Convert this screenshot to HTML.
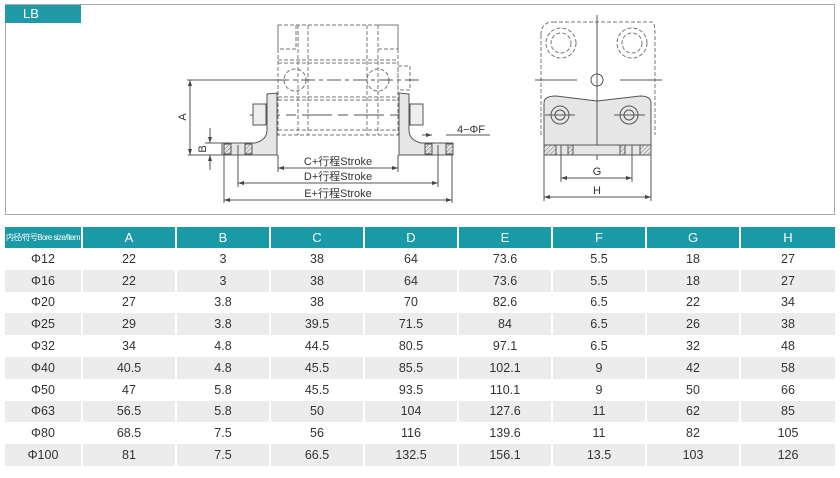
<!DOCTYPE html>
<html><head><meta charset="utf-8"><style>
body{margin:0;width:840px;height:478px;background:#fff;font-family:"Liberation Sans","Noto Sans CJK SC",sans-serif;position:relative;overflow:hidden}
.frame{position:absolute;left:5px;top:4px;width:828px;height:209px;border:1px solid #aaa}
.tab{position:absolute;left:5px;top:5px;width:76px;height:18px;background:#1f9aa6;color:#fff;font-size:13px;line-height:18px;padding-left:18px;box-sizing:border-box}
table{position:absolute;left:5px;top:227px;border-collapse:collapse;width:830px;table-layout:fixed;font-size:12.5px;color:#333}
th{background:#1a9aa6;color:#fff;font-weight:normal;height:21px;border-left:2px solid #fff;font-size:13px;padding:0}
th:first-child{border-left:none;font-size:8px;letter-spacing:-0.6px;white-space:nowrap;overflow:hidden}
td{text-align:center;height:21.8px;padding:0;border-left:2px solid #fff}
tr.g td{background:#ececec}
</style></head><body>
<div class="frame"></div>
<div class="tab">LB</div>
<svg width="840" height="215" style="position:absolute;left:0;top:0" font-family="Liberation Sans, Noto Sans CJK SC, sans-serif">
<defs><pattern id="h" width="3" height="3" patternUnits="userSpaceOnUse" patternTransform="rotate(45)"><line x1="0" y1="0" x2="0" y2="3" stroke="#555" stroke-width="0.8"/></pattern>
<marker id="a" markerWidth="6" markerHeight="4" refX="6" refY="2" orient="auto-start-reverse"><path d="M0,0L6,2L0,4z" fill="#444"/></marker></defs>
<g stroke="#777" stroke-width="1" fill="none" stroke-dasharray="4,2">
<rect x="278" y="25" width="120" height="110"/>
<line x1="298" y1="25" x2="298" y2="135"/><line x1="308" y1="25" x2="308" y2="135"/>
<line x1="367" y1="25" x2="367" y2="135"/><line x1="378" y1="25" x2="378" y2="135"/>
<line x1="278" y1="60" x2="398" y2="60"/><line x1="278" y1="63" x2="398" y2="63"/>
<line x1="278" y1="97" x2="398" y2="97"/><line x1="278" y1="100" x2="398" y2="100"/>
<line x1="278" y1="130" x2="398" y2="130"/>
<rect x="278" y="25" width="18" height="24"/><rect x="378" y="25" width="20" height="24"/>
<circle cx="295" cy="80" r="11"/><circle cx="378" cy="80" r="11"/>
<rect x="398" y="66" width="12" height="24"/>
</g>
<g stroke="#555" stroke-width="1" fill="none">
<line x1="187" y1="80" x2="275" y2="80"/><line x1="275" y1="80" x2="420" y2="80" stroke-dasharray="14,4,4,4"/>
<line x1="250" y1="115" x2="420" y2="115" stroke-dasharray="30,6,10,6"/>
<path d="M267,94 L277,93 L277,155 L240,155 L222,155 L222,143 L255,143 Q267,140 267,130 Z" fill="#e6e6e6"/>
<path d="M409,94 L399,93 L399,155 L453,155 L453,143 L421,143 Q409,140 409,130 Z" fill="#e6e6e6"/>
<rect x="253" y="104" width="13" height="21" fill="#eee"/><rect x="410" y="104" width="13" height="21" fill="#eee"/>
<rect x="224" y="144" width="7" height="10" fill="url(#h)"/><rect x="245" y="144" width="7" height="10" fill="url(#h)"/>
<rect x="425" y="144" width="7" height="10" fill="url(#h)"/><rect x="446" y="144" width="7" height="10" fill="url(#h)"/>
<line x1="188" y1="155" x2="222" y2="155"/><line x1="205" y1="143" x2="222" y2="143"/>
<line x1="190" y1="80" x2="190" y2="155" marker-start="url(#a)" marker-end="url(#a)"/>
<line x1="210" y1="128" x2="210" y2="143" marker-end="url(#a)"/><line x1="210" y1="170" x2="210" y2="155" marker-end="url(#a)"/>
<line x1="278" y1="155" x2="278" y2="172"/><line x1="398" y1="155" x2="398" y2="172"/>
<line x1="238" y1="145" x2="238" y2="187"/><line x1="438" y1="145" x2="438" y2="187"/>
<line x1="224" y1="155" x2="224" y2="203"/><line x1="452" y1="155" x2="452" y2="203"/>
<line x1="278" y1="168" x2="398" y2="168" marker-start="url(#a)" marker-end="url(#a)"/>
<line x1="238" y1="183" x2="438" y2="183" marker-start="url(#a)" marker-end="url(#a)"/>
<line x1="224" y1="200" x2="452" y2="200" marker-start="url(#a)" marker-end="url(#a)"/>
<line x1="422" y1="135" x2="432" y2="135" marker-end="url(#a)"/><line x1="446" y1="135" x2="490" y2="135"/>
</g>
<g font-size="11" fill="#333" text-anchor="middle">
<text x="338" y="165">C+行程Stroke</text><text x="338" y="180">D+行程Stroke</text><text x="338" y="197">E+行程Stroke</text>
<text x="471" y="133">4−ΦF</text>
<text transform="translate(186,117) rotate(-90)">A</text><text transform="translate(206,149) rotate(-90)">B</text>
<text x="597" y="175">G</text><text x="597" y="194">H</text>
</g>
<g stroke="#777" stroke-width="1" fill="none" stroke-dasharray="4,2">
<path d="M553,22 L652,22 Q655,22 655,35 L655,135 M541,35 Q541,22 553,22 M541,35 L541,135"/>
<circle cx="561" cy="43" r="15"/><circle cx="561" cy="43" r="10"/>
<circle cx="632" cy="43" r="15"/><circle cx="632" cy="43" r="10"/>
</g>
<g stroke="#555" stroke-width="1" fill="none">
<path d="M544,103 Q544,96 556,96 L597,101 L640,96 Q651,96 651,103 L651,145 L544,145 Z" fill="#e6e6e6"/>
<line x1="597" y1="15" x2="597" y2="160"/>
<line x1="535" y1="80" x2="577" y2="80"/><line x1="620" y1="80" x2="662" y2="80"/>
<circle cx="597" cy="80" r="6"/>
<circle cx="560" cy="115" r="9"/><circle cx="560" cy="115" r="5"/>
<circle cx="629" cy="115" r="9"/><circle cx="629" cy="115" r="5"/>
<line x1="545" y1="115" x2="575" y2="115"/><line x1="614" y1="115" x2="645" y2="115"/>
<rect x="544" y="145" width="107" height="10" fill="#e6e6e6"/>
<rect x="544" y="145" width="12" height="10" fill="url(#h)"/><rect x="568" y="145" width="5" height="10" fill="url(#h)"/>
<rect x="620" y="145" width="5" height="10" fill="url(#h)"/><rect x="640" y="145" width="11" height="10" fill="url(#h)"/>
<line x1="561" y1="145" x2="561" y2="182"/><line x1="632" y1="145" x2="632" y2="182"/>
<line x1="544" y1="155" x2="544" y2="201"/><line x1="651" y1="155" x2="651" y2="201"/>
<line x1="561" y1="178" x2="632" y2="178" marker-start="url(#a)" marker-end="url(#a)"/>
<line x1="544" y1="197" x2="651" y2="197" marker-start="url(#a)" marker-end="url(#a)"/>
</g>
</svg>
<table>
<colgroup><col style="width:77px"><col style="width:94px"><col style="width:94px"><col style="width:94px"><col style="width:94px"><col style="width:94px"><col style="width:94px"><col style="width:94px"><col style="width:95px"></colgroup>
<tr><th>内径/符号Bore size/Item</th><th>A</th><th>B</th><th>C</th><th>D</th><th>E</th><th>F</th><th>G</th><th>H</th></tr>
<tr><td style="border:none">Φ12</td><td>22</td><td>3</td><td>38</td><td>64</td><td>73.6</td><td>5.5</td><td>18</td><td>27</td></tr>
<tr class="g"><td style="border:none">Φ16</td><td>22</td><td>3</td><td>38</td><td>64</td><td>73.6</td><td>5.5</td><td>18</td><td>27</td></tr>
<tr><td style="border:none">Φ20</td><td>27</td><td>3.8</td><td>38</td><td>70</td><td>82.6</td><td>6.5</td><td>22</td><td>34</td></tr>
<tr class="g"><td style="border:none">Φ25</td><td>29</td><td>3.8</td><td>39.5</td><td>71.5</td><td>84</td><td>6.5</td><td>26</td><td>38</td></tr>
<tr><td style="border:none">Φ32</td><td>34</td><td>4.8</td><td>44.5</td><td>80.5</td><td>97.1</td><td>6.5</td><td>32</td><td>48</td></tr>
<tr class="g"><td style="border:none">Φ40</td><td>40.5</td><td>4.8</td><td>45.5</td><td>85.5</td><td>102.1</td><td>9</td><td>42</td><td>58</td></tr>
<tr><td style="border:none">Φ50</td><td>47</td><td>5.8</td><td>45.5</td><td>93.5</td><td>110.1</td><td>9</td><td>50</td><td>66</td></tr>
<tr class="g"><td style="border:none">Φ63</td><td>56.5</td><td>5.8</td><td>50</td><td>104</td><td>127.6</td><td>11</td><td>62</td><td>85</td></tr>
<tr><td style="border:none">Φ80</td><td>68.5</td><td>7.5</td><td>56</td><td>116</td><td>139.6</td><td>11</td><td>82</td><td>105</td></tr>
<tr class="g"><td style="border:none">Φ100</td><td>81</td><td>7.5</td><td>66.5</td><td>132.5</td><td>156.1</td><td>13.5</td><td>103</td><td>126</td></tr>
</table>
</body></html>
